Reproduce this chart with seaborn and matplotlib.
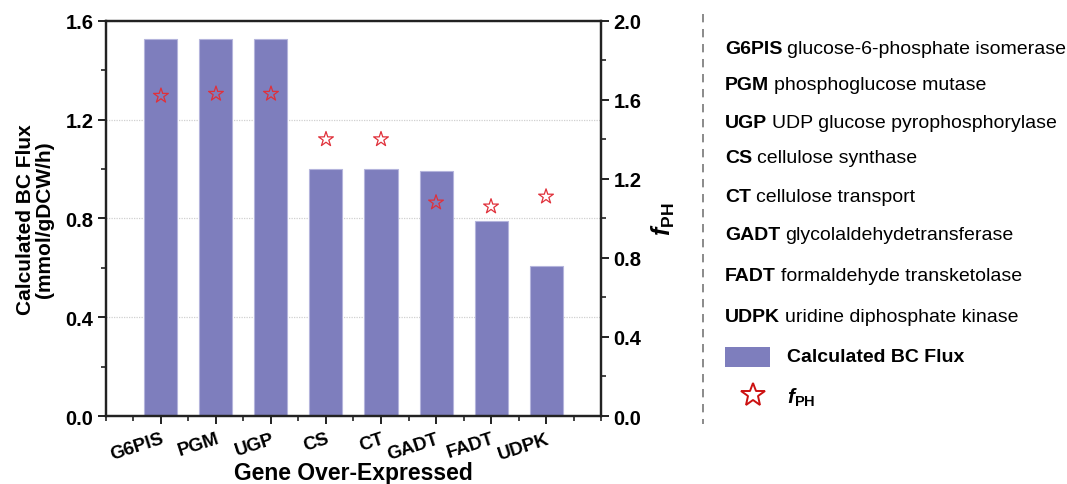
import matplotlib
matplotlib.use("Agg")
import matplotlib.pyplot as plt
import seaborn as sns
import pandas as pd
import numpy as np
from matplotlib.ticker import MultipleLocator
from matplotlib.patches import Rectangle
from matplotlib.lines import Line2D

genes = ["G6PIS", "PGM", "UGP", "CS", "CT", "GADT", "FADT", "UDPK"]
bc_flux = [1.527, 1.525, 1.525, 1.000, 1.000, 0.990, 0.790, 0.607]
f_ph = [1.62, 1.63, 1.63, 1.40, 1.40, 1.08, 1.06, 1.11]
gene_names = ["glucose-6-phosphate isomerase", "phosphoglucose mutase",
              "UDP glucose pyrophosphorylase", "cellulose synthase",
              "cellulose transport", "glycolaldehydetransferase",
              "formaldehyde transketolase", "uridine diphosphate kinase"]

sns.set_theme(style="white")
plt.rcParams['font.family'] = ['Liberation Sans', 'DejaVu Sans']
plt.rcParams['text.color'] = 'black'
plt.rcParams['axes.labelcolor'] = 'black'
plt.rcParams['xtick.color'] = 'black'
plt.rcParams['ytick.color'] = 'black'
plt.rcParams['mathtext.fontset'] = 'custom'
plt.rcParams['mathtext.rm'] = 'Liberation Sans'
plt.rcParams['mathtext.bf'] = 'Liberation Sans:bold'
plt.rcParams['mathtext.it'] = 'Liberation Sans:italic'
plt.rcParams['mathtext.bfit'] = 'Liberation Sans:bold:italic'

df = pd.DataFrame({"gene": genes, "flux": bc_flux, "fph": f_ph})

fig = plt.figure(figsize=(10.67, 4.85), dpi=100)
ax = fig.add_axes([0.0993, 0.1402, 0.4640, 0.8151])

bar_color = "#7E7EBD"
sns.barplot(data=df, x="gene", y="flux", color=bar_color, saturation=1,
            width=0.6, edgecolor="#B4B4DC", linewidth=0.8, ax=ax, zorder=2)
ax.set_xlim(-1, 8)
ax.set_ylim(0, 1.6)
ax.yaxis.set_major_locator(MultipleLocator(0.4))
ax.yaxis.set_minor_locator(MultipleLocator(0.2))
ax.xaxis.set_minor_locator(MultipleLocator(0.5))
ax.grid(axis="y", which="major", color="#D0D0D0", linestyle=(0, (1, 1)), linewidth=0.9, zorder=0)
ax.set_axisbelow(True)

ax2 = ax.twinx()
sns.scatterplot(data=df, x="gene", y="fph", marker="*", s=125,
                facecolor="none", edgecolor="#E0303A", linewidth=0.9, ax=ax2, zorder=3)
ax2.set_ylim(0, 2.0)
ax2.set_xlim(-1, 8)
ax2.yaxis.set_major_locator(MultipleLocator(0.4))
ax2.yaxis.set_minor_locator(MultipleLocator(0.2))

spine_color = "#222222"
for a in (ax, ax2):
    for s in a.spines.values():
        s.set_visible(True)
        s.set_color(spine_color)
        s.set_linewidth(1.6)

ax.tick_params(axis="both", which="major", direction="out", length=6, width=1.4,
               color=spine_color, labelsize=14, pad=3)
ax.tick_params(axis="x", which="major", pad=4)
ax.tick_params(axis="both", which="minor", direction="out", length=3.5, width=1.2, color=spine_color)
ax.tick_params(axis="y", which="both", left=True, right=False)
ax.tick_params(axis="x", which="both", bottom=True, top=False)
ax2.tick_params(axis="y", which="major", direction="out", length=6, width=1.4,
                color=spine_color, labelsize=14, pad=3, right=True)
ax2.tick_params(axis="y", which="minor", direction="out", length=3.5, width=1.2, color=spine_color, right=True)
ax2.tick_params(axis="x", which="both", bottom=False, top=False, labelbottom=False)

ax.set_yticks([0, 0.4, 0.8, 1.2, 1.6])
ax.set_yticklabels(["0.0", "0.4", "0.8", "1.2", "1.6"], fontweight="bold", fontsize=14.5)
ax2.set_yticks([0, 0.4, 0.8, 1.2, 1.6, 2.0])
ax2.set_yticklabels(["0.0", "0.4", "0.8", "1.2", "1.6", "2.0"], fontweight="bold", fontsize=14.5)
ax.set_xticks(range(len(genes)))
ax.set_xticklabels(genes, rotation=18, ha="right", rotation_mode="anchor",
                   fontweight="bold", fontsize=13.5)

ax.set_xlabel("Gene Over-Expressed", fontweight="bold", fontsize=16.5)
ax.xaxis.label.set_verticalalignment("center")
ax.xaxis.set_label_coords(0.5, (417 - 473) / 395.3)
ax.set_ylabel("Calculated BC Flux\n(mmol/gDCW/h)", fontweight="bold", fontsize=15, labelpad=8, linespacing=1.0)
ax2.set_ylabel(r"$\mathbfit{f}_{\mathbf{PH}}$", fontsize=18, labelpad=6)

# dashed separator
fig.add_artist(Line2D([703/1067, 703/1067], [1-15/485, 1-425/485], transform=fig.transFigure,
                      color="#777777", linewidth=1.2, linestyle=(0, (5, 4))))

# gene legend text
fig.canvas.draw()
renderer = fig.canvas.get_renderer()
ys = [49, 86, 124, 159, 198, 236, 277, 317]
x0 = 725 / 1067
for g, name, y in zip(genes, gene_names, ys):
    t = fig.text(x0, 1 - y/485, g, fontweight="bold", fontsize=14, va="center", ha="left")
    bb = t.get_window_extent(renderer=renderer)
    fig.text((bb.x1 + 5) / 1067, 1 - y/485, name, fontsize=14, va="center", ha="left")

fig.add_artist(Rectangle((725/1067, 1-368/485), 45/1067, 20/485, transform=fig.transFigure,
                         facecolor=bar_color, edgecolor="none"))
fig.text(787/1067, 1-358/485, "Calculated BC Flux", fontweight="bold", fontsize=14, va="center", ha="left")
fig.add_artist(Line2D([753/1067], [1-396/485], transform=fig.transFigure, marker="*",
                      markersize=18, markerfacecolor="none", markeredgecolor="#CC1111",
                      markeredgewidth=1.4, linestyle="none"))
fig.text(787/1067, 1-398/485, r"$\mathbfit{f}_{\mathbf{PH}}$", fontsize=15, va="center", ha="left")

fig.savefig("out.png", dpi=100)
